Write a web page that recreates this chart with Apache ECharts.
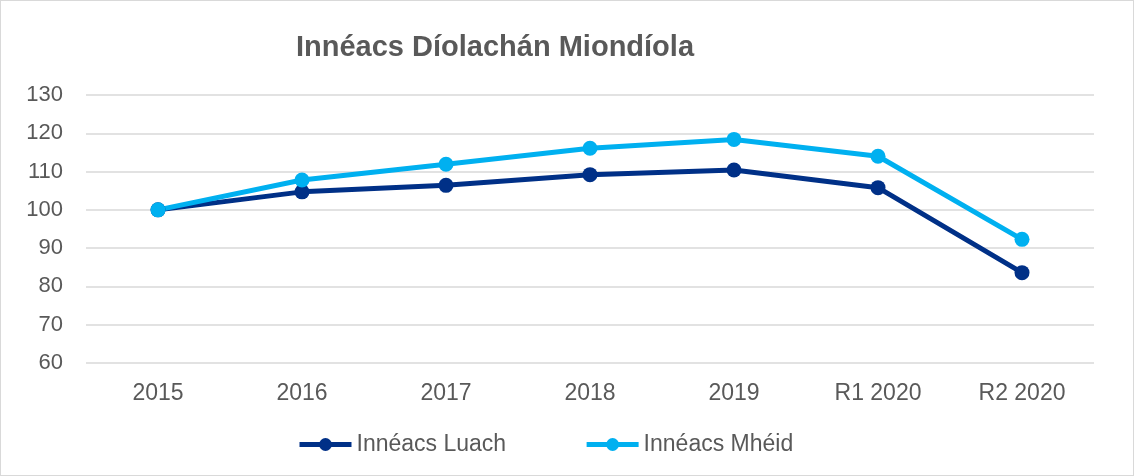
<!DOCTYPE html>
<html lang="ga">

<head>
    <meta charset="UTF-8">
    <title>Innéacs Díolachán Miondíola</title>
    <style>
        body,
        html {
            margin: 0;
            height: 100%;
            overflow: hidden;
            background: #fff;
        }

        #main {
            width: 1134px;
            height: 476px;
            box-sizing: border-box;
            border: 1px solid #d9d9d9;
        }
    </style>
</head>

<body>
    <div id="main"></div>
    <script src="https://cdn.jsdelivr.net/npm/echarts@6/dist/echarts.min.js"></script>
    <script type="text/javascript">
        // catagóirí
        const categories = ['2015', '2016', '2017', '2018', '2019', 'R1 2020', 'R2 2020'];
        // luachanna léite ón bpictiúr
        const luach = [100, 104.7, 106.4, 109.2, 110.4, 105.8, 83.6];
        const mheid = [100, 107.8, 111.9, 116.1, 118.4, 114.0, 92.3];

        var myChart = echarts.init(document.getElementById('main'));

        var textColor = '#595959';
        var font = 'Liberation Sans, Arial';

        var option = {
            animation: false,
            title: {
                text: 'Innéacs Díolachán Miondíola',
                left: 290,
                top: 27,
                textStyle: {
                    color: textColor,
                    fontFamily: font,
                    fontSize: 29,
                    fontWeight: 'bold'
                }
            },
            grid: {
                left: 85,
                right: 39,
                top: 94,
                bottom: 112
            },
            legend: {
                top: 427,
                left: 291,
                itemGap: 78,
                itemWidth: 52,
                itemHeight: 16,
                lineStyle: { width: 5 },
                textStyle: {
                    color: textColor,
                    fontFamily: font,
                    fontSize: 23
                },
                data: ['Innéacs Luach', 'Innéacs Mhéid']
            },
            xAxis: {
                type: 'category',
                data: categories,
                boundaryGap: true,
                axisLine: { show: false },
                axisTick: { show: false },
                axisLabel: {
                    color: textColor,
                    fontFamily: font,
                    fontSize: 23,
                    margin: 19
                }
            },
            yAxis: {
                type: 'value',
                min: 60,
                max: 130,
                interval: 10,
                axisLine: { show: false },
                axisTick: { show: false },
                axisLabel: {
                    color: textColor,
                    fontFamily: font,
                    fontSize: 22,
                    margin: 23
                },
                splitLine: {
                    lineStyle: { color: '#d9d9d9', width: 1.5 }
                }
            },
            series: [
                {
                    name: 'Innéacs Luach',
                    type: 'line',
                    data: luach,
                    symbol: 'circle',
                    symbolSize: 15,
                    lineStyle: { width: 5, color: '#003087' },
                    itemStyle: { color: '#003087' }
                },
                {
                    name: 'Innéacs Mhéid',
                    type: 'line',
                    data: mheid,
                    symbol: 'circle',
                    symbolSize: 15,
                    lineStyle: { width: 5, color: '#00b0f0' },
                    itemStyle: { color: '#00b0f0' }
                }
            ]
        };
        myChart.setOption(option);
    </script>
</body>

</html>
